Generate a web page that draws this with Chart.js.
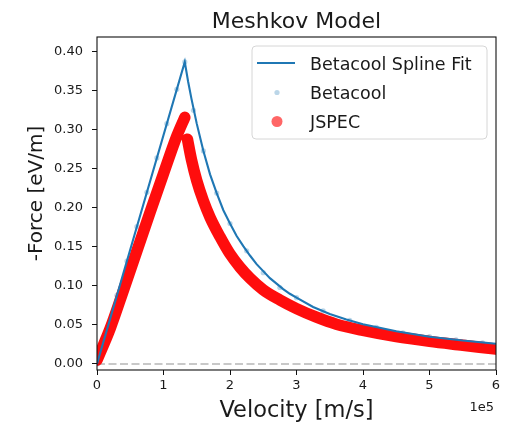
<!DOCTYPE html>
<html>
<head>
<meta charset="utf-8">
<script src="https://cdn.jsdelivr.net/npm/chart.js@4"></script>
<style>
  html, body { margin: 0; padding: 0; background: #fff; }
  #wrap { position: relative; width: 510px; height: 424px; }
</style>
</head>
<body>
<div id="wrap"><canvas id="c" width="510" height="424"></canvas></div>
<script>
// ---- data (velocity in m/s, force in eV/m) ----
const splineV = [0, 132000, 137000, 142000, 150000, 160000, 170000, 180000, 190000, 200000, 210000, 220000, 230000, 240000, 250000, 260000, 270000, 280000, 290000, 300000, 325000, 350000, 375000, 400000, 450000, 500000, 550000, 600000];
const splineF = [0, 0.387, 0.362, 0.340, 0.308, 0.273, 0.243, 0.219, 0.197, 0.180, 0.164, 0.151, 0.139, 0.128, 0.119, 0.110, 0.103, 0.096, 0.090, 0.085, 0.073, 0.064, 0.057, 0.051, 0.042, 0.035, 0.030, 0.026];

const betaV = [0, 15000, 30000, 45000, 60000, 75000, 90000, 105000, 120000, 132000, 145000, 160000, 180000, 200000, 225000, 250000, 275000, 300000, 340000, 380000, 420000, 460000, 500000, 540000, 580000];
const betaF = [0, 0.044, 0.088, 0.132, 0.176, 0.220, 0.264, 0.308, 0.352, 0.387, 0.325, 0.273, 0.219, 0.180, 0.145, 0.117, 0.098, 0.085, 0.068, 0.056, 0.047, 0.040, 0.035, 0.031, 0.027];

const jspecV = [0, 20000, 40000, 60000, 80000, 100000, 120000, 132000, null, 136000, 142000, 150000, 160000, 170000, 185000, 200000, 215000, 230000, 250000, 275000, 300000, 330000, 360000, 400000, 450000, 500000, 550000, 600000];
const jspecF = [0.005, 0.046, 0.095, 0.145, 0.195, 0.244, 0.292, 0.316, null, 0.288, 0.262, 0.235, 0.209, 0.188, 0.163, 0.141, 0.124, 0.110, 0.095, 0.082, 0.071, 0.060, 0.051, 0.043, 0.035, 0.029, 0.024, 0.019];

const xTicks = [0, 100000, 200000, 300000, 400000, 500000, 600000];
const xTickLabels = ['0', '1', '2', '3', '4', '5', '6'];
const yTicks = [0, 0.05, 0.10, 0.15, 0.20, 0.25, 0.30, 0.35, 0.40];
const yTickLabels = ['0.00', '0.05', '0.10', '0.15', '0.20', '0.25', '0.30', '0.35', '0.40'];

const titleText = 'Meshkov Model';
const xLabel = 'Velocity [m/s]';
const yLabel = '-Force [eV/m]';
const offsetText = '1e5';
const legendLabels = ['Betacool Spline Fit', 'Betacool', 'JSPEC'];

// ---- build points ----
const pts = (xs, ys) => xs.map((x, i) => (x === null ? {x: null, y: null} : {x: x, y: ys[i]}));

const FONT = 'DejaVu Sans';
const TXT = '#1a1a1a';

const decorPlugin = {
  id: 'decor',
  afterDatasetsDraw(chart) {
    const ctx = chart.ctx;
    const a = chart.chartArea;
    ctx.save();
    ctx.strokeStyle = '#111';
    ctx.lineWidth = 1.1;
    ctx.strokeRect(a.left, a.top, a.right - a.left, a.bottom - a.top);
    ctx.restore();
  },
  afterDraw(chart) {
    const ctx = chart.ctx;
    const a = chart.chartArea;
    const cx = (a.left + a.right) / 2;
    const cy = (a.top + a.bottom) / 2;
    ctx.save();
    ctx.fillStyle = TXT;
    ctx.textBaseline = 'alphabetic';
    ctx.textAlign = 'center';
    ctx.font = '22px "' + FONT + '"';
    ctx.fillText(titleText, cx, 28);
    ctx.font = '22.5px "' + FONT + '"';
    ctx.fillText(xLabel, cx, 417);
    ctx.font = '13px "' + FONT + '"';
    ctx.textAlign = 'right';
    ctx.fillText(offsetText, 494, 411);
    ctx.save();
    ctx.translate(42, cy - 10);
    ctx.rotate(-Math.PI / 2);
    ctx.textAlign = 'center';
    ctx.font = '20px "' + FONT + '"';
    ctx.fillText(yLabel, 0, 0);
    ctx.restore();

    // legend
    const lx = 252, ly = 46, lw = 235, lh = 93, r = 4;
    ctx.beginPath();
    ctx.moveTo(lx + r, ly);
    ctx.lineTo(lx + lw - r, ly);
    ctx.arcTo(lx + lw, ly, lx + lw, ly + r, r);
    ctx.lineTo(lx + lw, ly + lh - r);
    ctx.arcTo(lx + lw, ly + lh, lx + lw - r, ly + lh, r);
    ctx.lineTo(lx + r, ly + lh);
    ctx.arcTo(lx, ly + lh, lx, ly + lh - r, r);
    ctx.lineTo(lx, ly + r);
    ctx.arcTo(lx, ly, lx + r, ly, r);
    ctx.closePath();
    ctx.fillStyle = 'rgba(255,255,255,0.8)';
    ctx.fill();
    ctx.strokeStyle = '#d6d6d6';
    ctx.lineWidth = 1;
    ctx.stroke();

    const rows = [63, 92.5, 121.5];
    ctx.strokeStyle = '#1f77b4';
    ctx.lineWidth = 2.1;
    ctx.beginPath();
    ctx.moveTo(257, rows[0]);
    ctx.lineTo(295, rows[0]);
    ctx.stroke();
    ctx.fillStyle = 'rgba(31,119,180,0.3)';
    ctx.beginPath();
    ctx.arc(277, rows[1], 2.6, 0, Math.PI * 2);
    ctx.fill();
    ctx.fillStyle = 'rgba(255,0,0,0.6)';
    ctx.beginPath();
    ctx.arc(277, rows[2], 5.5, 0, Math.PI * 2);
    ctx.fill();

    ctx.fillStyle = TXT;
    ctx.textAlign = 'left';
    ctx.font = '17.5px "' + FONT + '"';
    ctx.fillText(legendLabels[0], 310, 69.5);
    ctx.fillText(legendLabels[1], 310, 98.5);
    ctx.fillText(legendLabels[2], 310, 127.5);
    ctx.restore();
  }
};

new Chart(document.getElementById('c'), {
  type: 'scatter',
  data: {
    datasets: [
      {
        label: legendLabels[2],
        data: pts(jspecV, jspecF),
        showLine: true,
        spanGaps: false,
        borderColor: 'rgba(255,0,0,0.95)',
        backgroundColor: 'rgba(255,0,0,0.6)',
        borderWidth: 11.5,
        borderCapStyle: 'round',
        borderJoinStyle: 'round',
        pointRadius: 0,
        cubicInterpolationMode: 'monotone',
        order: 1
      },
      {
        label: legendLabels[1],
        data: pts(betaV, betaF),
        showLine: false,
        backgroundColor: 'rgba(31,119,180,0.3)',
        pointRadius: 2.6,
        pointBorderWidth: 0,
        order: 2
      },
      {
        label: legendLabels[0],
        data: pts(splineV, splineF),
        showLine: true,
        borderColor: '#1f77b4',
        borderWidth: 2.1,
        pointRadius: 0,
        tension: 0,
        order: 0
      },
      {
        label: 'zero',
        data: [{x: xTicks[0], y: 0}, {x: xTicks[xTicks.length - 1], y: 0}],
        showLine: true,
        borderColor: '#c8c8c8',
        borderWidth: 2,
        borderDash: [8, 3.5],
        pointRadius: 0,
        order: 3
      }
    ]
  },
  options: {
    responsive: false,
    animation: false,
    events: [],
    layout: { padding: { top: 37, right: 14, left: 0, bottom: 0 } },
    plugins: { legend: { display: false }, title: { display: false }, tooltip: { enabled: false } },
    scales: {
      x: {
        type: 'linear',
        min: 0,
        max: 600000,
        afterBuildTicks: (s) => { s.ticks = xTicks.map(v => ({value: v})); },
        afterFit: (s) => { s.height = 54; },
        ticks: {
          autoSkip: false,
          maxRotation: 0,
          padding: 3,
          color: TXT,
          font: { family: FONT, size: 13 },
          callback: (v, i) => xTickLabels[i]
        },
        grid: { display: true, drawOnChartArea: false, drawTicks: true, tickLength: 5, color: '#111', lineWidth: 1 },
        border: { display: false }
      },
      y: {
        type: 'linear',
        min: -0.0077,
        max: 0.419,
        afterBuildTicks: (s) => { s.ticks = yTicks.map(v => ({value: v})); },
        afterFit: (s) => { s.width = 97; },
        ticks: {
          autoSkip: false,
          padding: 9,
          color: TXT,
          font: { family: FONT, size: 13 },
          callback: (v, i) => yTickLabels[i]
        },
        grid: { display: true, drawOnChartArea: false, drawTicks: true, tickLength: 5, color: '#111', lineWidth: 1 },
        border: { display: false }
      }
    }
  },
  plugins: [decorPlugin]
});
</script>
</body>
</html>
